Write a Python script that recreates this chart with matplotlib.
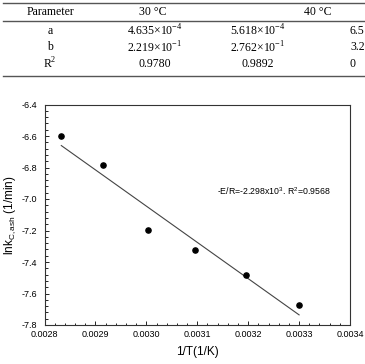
import numpy as np
import matplotlib
matplotlib.use("Agg")
import matplotlib.pyplot as plt
from matplotlib.lines import Line2D
from matplotlib.ticker import MultipleLocator, FormatStrFormatter

plt.rcParams["font.family"] = ["Liberation Sans", "DejaVu Sans"]
plt.rcParams["mathtext.fontset"] = "custom"
plt.rcParams["mathtext.rm"] = "Liberation Serif"
plt.rcParams["mathtext.sf"] = "Liberation Sans"

# table values (partly cut off on the right in the original)
table_header = ["Parameter", "30 \u00b0C", "40 \u00b0C"]
row_names = ["a", "b", r"R$^{2}$"]
col_30 = [r"4.635$\times$10$^{-4}$", r"2.219$\times$10$^{-1}$", "0.9780"]
col_40 = [r"5.618$\times$10$^{-4}$", r"2.762$\times$10$^{-1}$", "0.9892"]
col_cut = ["6.5", "3.2", "0"]

# Arrhenius plot data
inv_T = [0.002833, 0.002915, 0.003003, 0.003096, 0.003195, 0.003300]
ln_k = [-6.60, -6.785, -7.197, -7.323, -7.48, -7.673]
fit_label = r"-E/R=-2.298x10$^{\mathsf{3}}$. R$^{\mathsf{2}}$=0.9568"

W, H = 365, 364
fig = plt.figure(figsize=(W / 100, H / 100), dpi=100)

def fx(px):
    return px / W

def fy(py):
    return 1 - py / H

# --- table ---
for y in [2.5, 20.5, 76]:
    fig.add_artist(Line2D([fx(3), 1], [fy(y), fy(y)], color="#555555", lw=1.0))

serif = dict(family="Liberation Serif", fontsize=8.5, ha="center", va="center")
fig.text(fx(50), fy(12), table_header[0], **serif)
fig.text(fx(153), fy(12), table_header[1], **serif)
fig.text(fx(318), fy(12), table_header[2], **serif)
row_y = [31, 47.5, 64]
for i in range(3):
    fig.text(fx(50), fy(row_y[i]), row_names[i], **serif)
    fig.text(fx(155), fy(row_y[i]), col_30[i], **serif)
    fig.text(fx(258), fy(row_y[i]), col_40[i], **serif)
    fig.text(fx(350), fy(row_y[i]), col_cut[i], family="Liberation Serif",
             fontsize=8.5, ha="left", va="center")

# --- chart ---
ax = fig.add_axes([fx(44.5), fy(325), fx(350 - 44.5), (325 - 104.5) / H])
ax.scatter(inv_T, ln_k, s=14, color="black", zorder=3)

slope, intercept = np.polyfit(inv_T, ln_k, 1)
xs = np.array([min(inv_T), max(inv_T)])
ax.plot(xs, slope * xs + intercept, color="#444444", lw=0.8)

ax.text(0.00325, -6.95, fit_label, fontsize=6.3, ha="center", va="center")

ax.set_xlim(0.0028, 0.0034)
ax.set_ylim(-7.8, -6.4)
ax.xaxis.set_major_locator(MultipleLocator(0.0001))
ax.xaxis.set_minor_locator(MultipleLocator(0.00002))
ax.yaxis.set_major_locator(MultipleLocator(0.2))
ax.yaxis.set_minor_locator(MultipleLocator(0.04))
ax.xaxis.set_major_formatter(FormatStrFormatter("%.4f"))
ax.yaxis.set_major_formatter(FormatStrFormatter("%.1f"))
ax.tick_params(which="both", direction="in", top=False, right=False,
               labelsize=6.5, width=0.6)
ax.tick_params(axis="x", which="major", pad=3.5)
ax.tick_params(axis="y", which="major", pad=5)
ax.tick_params(which="major", length=3)
ax.tick_params(which="minor", length=1.8)
for s in ax.spines.values():
    s.set_linewidth(0.8)
    s.set_color("#333333")

ax.set_xlabel("1/T(1/K)", fontsize=8.5, labelpad=5)
ax.set_ylabel(r"lnk$_{\mathsf{C,ash}}$ (1/min)", fontsize=8.5)
ax.yaxis.set_label_coords(-0.088, 0.5)

fig.savefig("out.png", dpi=100)
